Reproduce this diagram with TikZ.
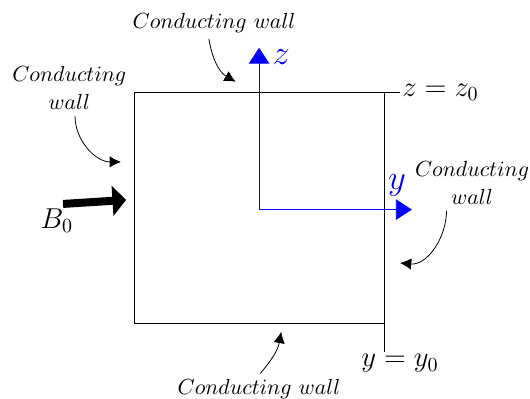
\documentclass[tikz,border=0pt]{standalone}
\usepackage{amsmath,amssymb}
\usepackage{tikz}
\usetikzlibrary{arrows.meta}

\begin{document}
\begin{tikzpicture}[
  wallnote/.style={align=center,inner sep=2pt,font=\fontsize{11}{14}\selectfont},
  wallarrow/.style={-{Latex[length=2mm,width=2mm]},shorten <=1pt},
  axis/.style={blue,-{Triangle[length=0.28cm,width=0.36cm]}}]
\useasboundingbox (0,0) rectangle (9.33,7.02);
  \coordinate (bl) at (2.36,1.32);
  \coordinate (br) at (6.76,1.32);
  \coordinate (tl) at (2.36,5.39);
  \coordinate (tr) at (6.76,5.39);
  \coordinate (topEnd) at (7.04,5.39);
  \coordinate (rightEnd) at (6.76,0.83);
  \draw (br) -- (bl) -- (tl) -- (topEnd);
  \draw (tr) -- (rightEnd);
  \node[anchor=west,inner sep=1pt] (zlevel) at (topEnd) {\Large $z=z_0$};
  \node (ylevel) at (7.04,0.62) {\Large $y=y_0$};
  \coordinate (origin) at (4.56,3.33);
  \coordinate (zTip) at (4.56,6.18);
  \coordinate (yTip) at (7.25,3.33);
  \draw[axis] (origin) -- (zTip);
  \draw[axis] (origin) -- (yTip);
  \node[blue] (zlab) at (4.95,6.02) {\LARGE $z$};
  \node[blue] (ylab) at (6.99,3.76) {\LARGE $y$};
  \coordinate (bStart) at (1.11,3.43);
  \coordinate (bEnd) at (2.22,3.50);
  \draw[line width=4pt,-{Triangle[length=0.24cm,width=0.52cm]}] (bStart) -- (bEnd);
  \node (bzero) at (1.00,3.13) {\Large $B_0$};
  \node[wallnote] (wallTop) at (3.77,6.62) {$Conducting\ wall$};
  \node[wallnote] (wallLeft) at (1.22,5.47) {$Conducting$\\$wall$};
  \node[wallnote] (wallRight) at (8.31,3.80) {$Conducting$\\$wall$};
  \node[wallnote] (wallBottom) at (4.56,0.17) {$Conducting\ wall$};
  \coordinate (hitTop) at (4.15,5.58);
  \coordinate (hitLeft) at (2.13,4.17);
  \coordinate (hitRight) at (7.04,2.39);
  \coordinate (hitBottom) at (4.95,1.18);
  \draw[wallarrow] ([xshift=-1mm]wallTop.south) to[out=-80,in=150] (hitTop);
  \draw[wallarrow] ([xshift=1mm]wallLeft.south) to[out=-90,in=180] (hitLeft);
  \draw[wallarrow] ([xshift=-4.5mm]wallRight.south) to[out=-90,in=-5] (hitRight);
  \draw[wallarrow] (wallBottom.north) to[out=50,in=-100] (hitBottom);
\end{tikzpicture}
\end{document}
